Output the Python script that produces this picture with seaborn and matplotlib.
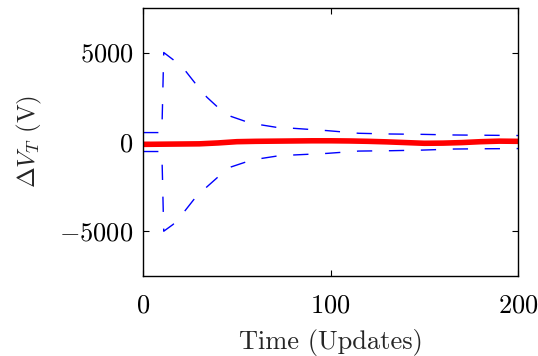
import matplotlib
matplotlib.use("Agg")
import matplotlib.pyplot as plt
import seaborn as sns
import pandas as pd

# ---- data ----
bound_t = [0, 10, 11, 16, 22, 28, 34, 40, 47, 55, 63, 71, 80, 98, 115, 132, 149, 166, 183, 200]
upper = [520, 520, 5000, 4600, 4050, 3250, 2500, 1920, 1420, 1130, 950, 815, 760, 630, 480, 440, 420, 385, 370, 355]
lower = [-540, -540, -5000, -4620, -3900, -3100, -2520, -1960, -1400, -1120, -930, -800, -735, -645, -515, -495, -460, -400, -385, -375]

err_t = [0, 10, 20, 30, 40, 50, 60, 70, 80, 90, 100, 110, 120, 130, 140, 150, 160, 170, 180, 190, 200]
err = [-140, -130, -120, -110, -60, 10, 30, 40, 50, 60, 60, 50, 30, 0, -40, -80, -70, -40, 10, 40, 30]

x_ticks = [0, 100, 200]
y_ticks = [-5000, 0, 5000]

sns.set_theme(style="white")
plt.rcParams["font.family"] = ["cmr10", "DejaVu Serif"]
plt.rcParams["mathtext.fontset"] = "cm"
plt.rcParams["axes.formatter.use_mathtext"] = True

fig = plt.figure(figsize=(5.38, 3.56), dpi=100)
ax = fig.add_axes([0.266, 0.225, 0.697, 0.753])

df_b = pd.DataFrame({"t": bound_t, "up": upper, "lo": lower})
df_e = pd.DataFrame({"t": err_t, "e": err})

sns.lineplot(data=df_b, x="t", y="up", ax=ax, color="#0000ff", linewidth=1.0,
             dashes=False, estimator=None, sort=False)
sns.lineplot(data=df_b, x="t", y="lo", ax=ax, color="#0000ff", linewidth=1.0,
             dashes=False, estimator=None, sort=False)
for ln in ax.lines:
    ln.set_dashes((11, 12))
sns.lineplot(data=df_e, x="t", y="e", ax=ax, color="#ff0000", linewidth=4.0,
             estimator=None, sort=False)

ax.set_xlim(0, 200)
ax.set_ylim(-7500, 7500)
ax.set_xticks(x_ticks)
ax.set_yticks(y_ticks)
ax.set_xticklabels([f"${v}$" for v in x_ticks])
ax.set_yticklabels([f"${v}$" for v in y_ticks])
ax.tick_params(direction="in", length=4, width=0.8, top=True, right=True,
               bottom=True, left=True, labelsize=19, colors="black")
ax.tick_params(axis="x", pad=13)
ax.tick_params(axis="y", pad=7)
for s in ax.spines.values():
    s.set_color("black")
    s.set_linewidth(1.0)

ax.set_xlabel("Time (Updates)", fontsize=19, labelpad=8)
ax.set_ylabel(r"$\Delta V_T$ (V)", fontsize=18, labelpad=11)

fig.savefig("out.png", dpi=100)
